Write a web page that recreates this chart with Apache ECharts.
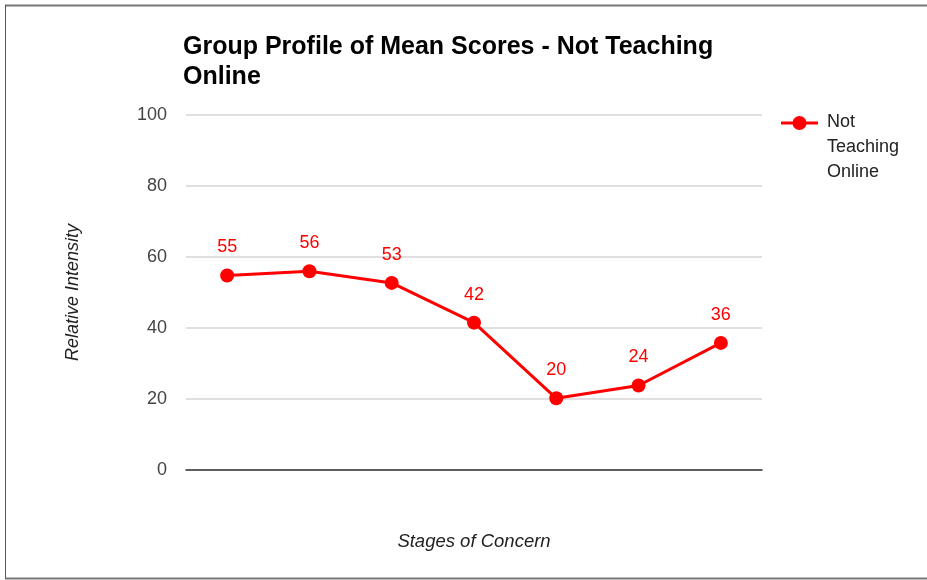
<!DOCTYPE html>
<html>
<head>
<meta charset="utf-8">
<script src="https://cdn.jsdelivr.net/npm/echarts@6/dist/echarts.min.js"></script>
<style>html,body{margin:0;padding:0;background:#fff}#c{width:927px;height:580px}</style>
</head>
<body>
<div id="c"></div>
<script>
var categories = ['Stage 0','Stage 1','Stage 2','Stage 3','Stage 4','Stage 5','Stage 6'];
var seriesName = 'Not Teaching Online';
var legendLines = ['Not', 'Teaching', 'Online'];
var values = [54.8, 56.0, 52.7, 41.5, 20.2, 23.8, 35.8];
var yTicks = [0, 20, 40, 60, 80, 100];

var chart = echarts.init(document.getElementById('c'));
var F = 'Arial, "Liberation Sans", Helvetica, sans-serif';
chart.setOption({
  animation: false,
  backgroundColor: '#fff',
  title: {
    text: 'Group Profile of Mean Scores - Not Teaching\nOnline',
    left: 178, top: 27,
    textStyle: {fontFamily: F, fontSize: 25, fontWeight: 'bold', color: '#000', lineHeight: 30}
  },
  grid: {left: 186, right: 165, top: 115, bottom: 110},
  xAxis: {
    type: 'category', data: categories, boundaryGap: true,
    axisLabel: {show: false}, axisTick: {show: false},
    axisLine: {lineStyle: {color: '#333', width: 1.5}},
    name: 'Stages of Concern', nameLocation: 'middle', nameGap: 62,
    nameTextStyle: {fontFamily: F, fontSize: 18.5, fontStyle: 'italic', color: '#222'}
  },
  yAxis: {
    type: 'value', min: yTicks[0], max: yTicks[yTicks.length-1], interval: 20,
    axisLine: {show: false}, axisTick: {show: false},
    axisLabel: {fontFamily: F, fontSize: 18, color: '#444', margin: 19},
    splitLine: {lineStyle: {color: '#d6d6d6', width: 1.5}},
    name: 'Relative Intensity', nameLocation: 'middle', nameGap: 104,
    nameTextStyle: {fontFamily: F, fontSize: 18, fontStyle: 'italic', color: '#222'}
  },
  series: [{
    name: seriesName, type: 'line', data: values,
    symbol: 'circle', symbolSize: 14,
    itemStyle: {color: '#ff0000'},
    lineStyle: {color: '#ff0000', width: 3},
    label: {show: true, position: 'top', distance: 12, color: '#ff0000',
      fontFamily: F, fontSize: 18,
      formatter: function(p){ return Math.round(p.value); }}
  }],
  graphic: [
    {type: 'line', shape: {x1: 5, y1: 5.5, x2: 927, y2: 5.5}, style: {stroke: '#777', lineWidth: 2}},
    {type: 'line', shape: {x1: 5.5, y1: 5, x2: 5.5, y2: 579}, style: {stroke: '#555', lineWidth: 1}},
    {type: 'line', shape: {x1: 5, y1: 578.5, x2: 927, y2: 578.5}, style: {stroke: '#777', lineWidth: 2}},
    {type: 'line', shape: {x1: 781, y1: 123, x2: 818, y2: 123}, style: {stroke: '#ff0000', lineWidth: 3}},
    {type: 'circle', shape: {cx: 799.5, cy: 123, r: 7}, style: {fill: '#ff0000'}},
    {type: 'text', left: 827, top: 110, style: {text: legendLines.join('\n'), fontFamily: F, fontSize: 18, lineHeight: 25, fill: '#222'}}
  ]
});
</script>
</body>
</html>
